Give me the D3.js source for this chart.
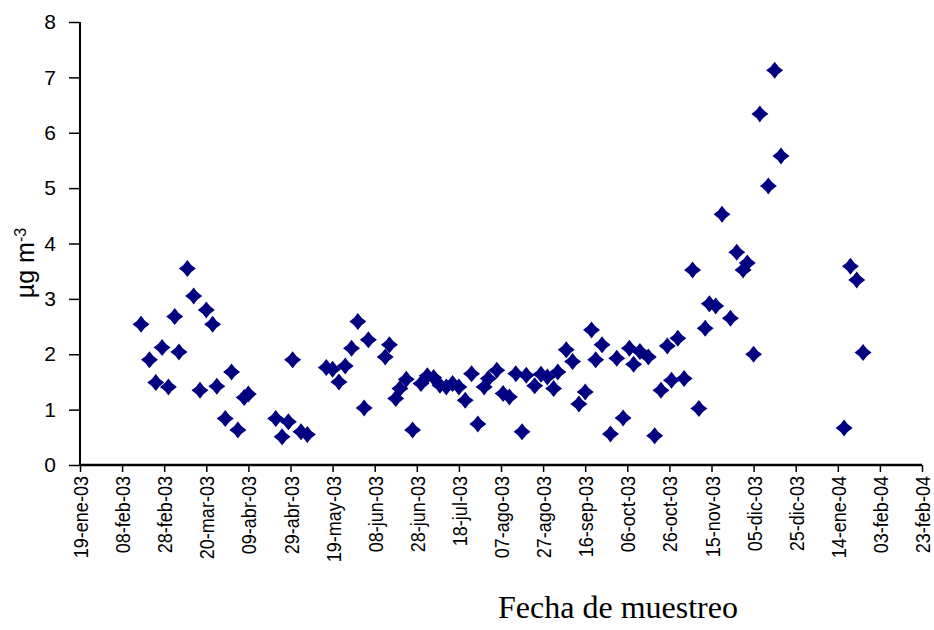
<!DOCTYPE html>
<html>
<head>
<meta charset="utf-8">
<script src="https://cdn.jsdelivr.net/npm/d3@7"></script>
<style>
  body { margin: 0; background: #fff; }
  svg { display: block; }
</style>
</head>
<body>
<script>
// fechas de muestreo y concentraciones (µg m-3)
const fechas = [
  "2003-02-17", "2003-02-21", "2003-02-24", "2003-02-27", "2003-03-02", "2003-03-05",
  "2003-03-07", "2003-03-11", "2003-03-14", "2003-03-17", "2003-03-20", "2003-03-23",
  "2003-03-25", "2003-03-29", "2003-04-01", "2003-04-04", "2003-04-07", "2003-04-09",
  "2003-04-22", "2003-04-25", "2003-04-28", "2003-04-30", "2003-05-04", "2003-05-07",
  "2003-05-16", "2003-05-19", "2003-05-22", "2003-05-25", "2003-05-28", "2003-05-31",
  "2003-06-03", "2003-06-05", "2003-06-13", "2003-06-15", "2003-06-18", "2003-06-20",
  "2003-06-23", "2003-06-26", "2003-06-30", "2003-07-03", "2003-07-06", "2003-07-09",
  "2003-07-12", "2003-07-15", "2003-07-18", "2003-07-21", "2003-07-24", "2003-07-27",
  "2003-07-30", "2003-08-01", "2003-08-05", "2003-08-08", "2003-08-11", "2003-08-14",
  "2003-08-17", "2003-08-19", "2003-08-23", "2003-08-26", "2003-08-29", "2003-09-01",
  "2003-09-03", "2003-09-07", "2003-09-10", "2003-09-13", "2003-09-16", "2003-09-19",
  "2003-09-21", "2003-09-24", "2003-09-28", "2003-10-01", "2003-10-04", "2003-10-07",
  "2003-10-09", "2003-10-12", "2003-10-16", "2003-10-19", "2003-10-22", "2003-10-25",
  "2003-10-27", "2003-10-30", "2003-11-02", "2003-11-06", "2003-11-09", "2003-11-12",
  "2003-11-14", "2003-11-17", "2003-11-20", "2003-11-24", "2003-11-27", "2003-11-30",
  "2003-12-02", "2003-12-05", "2003-12-08", "2003-12-12", "2003-12-15", "2003-12-18",
  "2004-01-17", "2004-01-20", "2004-01-23", "2004-01-26"
];
const valores = [
  2.54, 1.90, 1.49, 2.12, 1.41, 2.68,
  2.04, 3.55, 3.05, 1.35, 2.80, 2.54,
  1.42, 0.84, 1.68, 0.63, 1.22, 1.28,
  0.84, 0.51, 0.78, 1.90, 0.60, 0.55,
  1.76, 1.73, 1.50, 1.79, 2.11, 2.59,
  1.03, 2.26, 1.95, 2.17, 1.20, 1.38,
  1.55, 0.63, 1.47, 1.61, 1.58, 1.44,
  1.41, 1.47, 1.41, 1.17, 1.65, 0.74,
  1.41, 1.56, 1.71, 1.29, 1.23, 1.65,
  0.60, 1.62, 1.43, 1.64, 1.59, 1.38,
  1.68, 2.08, 1.87, 1.10, 1.32, 2.44,
  1.90, 2.17, 0.56, 1.93, 0.85, 2.11,
  1.82, 2.05, 1.95, 0.53, 1.35, 2.15,
  1.53, 2.29, 1.56, 3.52, 1.02, 2.47,
  2.91, 2.87, 4.53, 2.65, 3.84, 3.52,
  3.65, 2.00, 6.34, 5.04, 7.13, 5.58,
  0.67, 3.59, 3.34, 2.03
];

// etiquetas del eje X
const etiquetasX = [
  "19-ene-03", "08-feb-03", "28-feb-03", "20-mar-03", "09-abr-03", "29-abr-03",
  "19-may-03", "08-jun-03", "28-jun-03", "18-jul-03", "07-ago-03", "27-ago-03",
  "16-sep-03", "06-oct-03", "26-oct-03", "15-nov-03", "05-dic-03", "25-dic-03",
  "14-ene-04", "03-feb-04", "23-feb-04"
];
const ticksY = [0, 1, 2, 3, 4, 5, 6, 7, 8];
const meses = ["ene", "feb", "mar", "abr", "may", "jun", "jul", "ago", "sep", "oct", "nov", "dic"];

const width = 934, height = 630;
const margin = { left: 80, right: 12, top: 22, bottom: 165 };

const parseFecha = d3.utcParse("%Y-%m-%d");
function parseEtiqueta(s) {
  const [d, m, y] = s.split("-");
  return new Date(Date.UTC(2000 + (+y), meses.indexOf(m), +d));
}
const fechasTicks = etiquetasX.map(parseEtiqueta);

const data = fechas.map((f, i) => ({ fecha: parseFecha(f), valor: valores[i] }));

const svg = d3.select("body").append("svg")
    .attr("width", width)
    .attr("height", height);

const x = d3.scaleUtc()
    .domain([fechasTicks[0], fechasTicks[fechasTicks.length - 1]])
    .range([margin.left, width - margin.right]);

const y = d3.scaleLinear()
    .domain([0, 8])
    .range([height - margin.bottom, margin.top]);

// Eje Y
const yAxis = svg.append("g")
    .attr("transform", "translate(" + margin.left + ",0)")
    .call(d3.axisLeft(y).tickValues(ticksY).tickSize(11).tickPadding(13).tickFormat(d3.format("d")));
yAxis.select(".domain").attr("stroke", "#000").attr("stroke-width", 2).attr("d",
    "M0," + y(8) + "V" + y(0));
yAxis.selectAll(".tick line").attr("stroke", "#000").attr("stroke-width", 1.5);
yAxis.selectAll(".tick text")
    .attr("font-family", "Arial, 'Liberation Sans', sans-serif")
    .attr("font-size", "21px")
    .attr("fill", "#000");

// Eje X
const xAxis = svg.append("g")
    .attr("transform", "translate(0," + y(0) + ")")
    .call(d3.axisBottom(x).tickValues(fechasTicks).tickSize(7).tickFormat((d, i) => etiquetasX[i]));
xAxis.select(".domain").attr("stroke", "#000").attr("stroke-width", 2.5).attr("d",
    "M" + x.range()[0] + ",0H" + x.range()[1]);
xAxis.selectAll(".tick line").attr("stroke", "#000").attr("stroke-width", 1.5);
xAxis.selectAll(".tick text")
    .attr("font-family", "Arial, 'Liberation Sans', sans-serif")
    .attr("font-size", "21px")
    .attr("fill", "#000")
    .attr("text-anchor", "end")
    .attr("dy", "0.36em")
    .attr("transform", "translate(0,11) rotate(-90) scale(0.86,1)")
    .attr("x", 0)
    .attr("y", 0);

// Marcadores (rombo con lados algo cóncavos)
const r = 8.5, c = r * 0.38;
const rombo = `M0,${-r}Q${c},${-c} ${r},0Q${c},${c} 0,${r}Q${-c},${c} ${-r},0Q${-c},${-c} 0,${-r}Z`;

svg.append("g")
    .selectAll("path")
    .data(data)
    .enter().append("path")
    .attr("d", rombo)
    .attr("transform", d => "translate(" + x(d.fecha) + "," + y(d.valor) + ")")
    .attr("fill", "#000080");

// Título eje Y
const yTitle = svg.append("text")
    .attr("transform", "translate(34,263) rotate(-90)")
    .attr("text-anchor", "middle")
    .attr("font-family", "Arial, 'Liberation Sans', sans-serif")
    .attr("font-size", "25px")
    .attr("fill", "#000");
yTitle.append("tspan").text("µg m");
yTitle.append("tspan").attr("dy", "-0.5em").attr("font-size", "16px").text("-3");

// Título eje X
svg.append("text")
    .attr("x", 618)
    .attr("y", 618)
    .attr("text-anchor", "middle")
    .attr("font-family", "'Times New Roman', 'Liberation Serif', serif")
    .attr("font-size", "32px")
    .attr("fill", "#000")
    .text("Fecha de muestreo");
</script>
</body>
</html>
